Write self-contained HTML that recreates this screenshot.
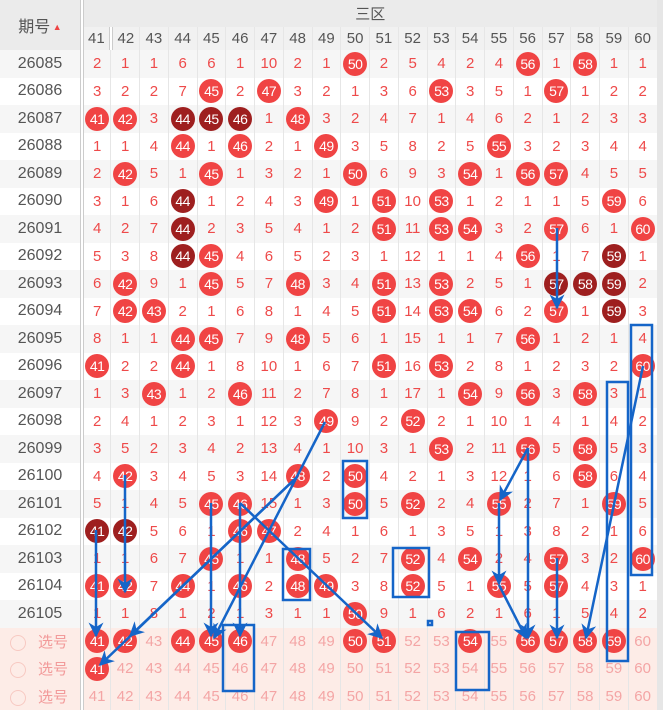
<!DOCTYPE html><html><head><meta charset="utf-8"><style>
body{margin:0;width:663px;height:699px;overflow:hidden;background:#e6e6e6;font-family:"Liberation Sans","Noto Sans CJK SC",sans-serif;position:relative}
table{position:absolute;left:0;top:0;border-collapse:collapse;table-layout:fixed;width:657px;background:#fff}
td{padding:0;text-align:center;font-size:15px;color:#ee4a4a;height:27.5px;border-right:1px solid #e6e6e6;white-space:nowrap;overflow:hidden}
td:first-child{width:76px;color:#555;font-size:16px;border-right:4px double #ccc}
tr.g td{background:#f6f6f6}
thead td{background:#ebebeb;color:#555;font-size:15px}
thead tr.h2 td{background:#f1f1f1;height:23px;font-size:15px}
i{display:inline-block;width:24px;height:24px;line-height:24px;border-radius:50%;background:#f04444;color:#fff;font-style:normal;font-size:14px;vertical-align:middle;letter-spacing:-0.5px}
i.d{background:#9e1f1f}
tr.s td{background:#fdece7;color:#f4a5a5;font-size:15px}
tr.s td:first-child{color:#f29a9a;text-align:left;padding-left:10px;font-size:15px}
.c{display:inline-block;width:14px;height:14px;border:1px solid #f7c9c2;border-radius:50%;vertical-align:middle;margin-right:12px}
svg{position:absolute;left:0;top:0}
</style></head><body>
<table>
<colgroup><col style="width:82px"><col span="20" style="width:28.75px"></colgroup>
<thead>
<tr><td rowspan="2" style="height:50px">期号<span style="font-size:9px;color:#e44;vertical-align:2px"> ▲</span></td><td colspan="20" style="height:27px">三区</td></tr>
<tr class="h2"><td>41</td><td>42</td><td>43</td><td>44</td><td>45</td><td>46</td><td>47</td><td>48</td><td>49</td><td>50</td><td>51</td><td>52</td><td>53</td><td>54</td><td>55</td><td>56</td><td>57</td><td>58</td><td>59</td><td>60</td></tr>
</thead>
<tbody>
<tr class="g"><td>26085</td><td>2</td><td>1</td><td>1</td><td>6</td><td>6</td><td>1</td><td>10</td><td>2</td><td>1</td><td><i>50</i></td><td>2</td><td>5</td><td>4</td><td>2</td><td>4</td><td><i>56</i></td><td>1</td><td><i>58</i></td><td>1</td><td>1</td></tr>
<tr><td>26086</td><td>3</td><td>2</td><td>2</td><td>7</td><td><i>45</i></td><td>2</td><td><i>47</i></td><td>3</td><td>2</td><td>1</td><td>3</td><td>6</td><td><i>53</i></td><td>3</td><td>5</td><td>1</td><td><i>57</i></td><td>1</td><td>2</td><td>2</td></tr>
<tr class="g"><td>26087</td><td><i>41</i></td><td><i>42</i></td><td>3</td><td><i class="d">44</i></td><td><i class="d">45</i></td><td><i class="d">46</i></td><td>1</td><td><i>48</i></td><td>3</td><td>2</td><td>4</td><td>7</td><td>1</td><td>4</td><td>6</td><td>2</td><td>1</td><td>2</td><td>3</td><td>3</td></tr>
<tr><td>26088</td><td>1</td><td>1</td><td>4</td><td><i>44</i></td><td>1</td><td><i>46</i></td><td>2</td><td>1</td><td><i>49</i></td><td>3</td><td>5</td><td>8</td><td>2</td><td>5</td><td><i>55</i></td><td>3</td><td>2</td><td>3</td><td>4</td><td>4</td></tr>
<tr class="g"><td>26089</td><td>2</td><td><i>42</i></td><td>5</td><td>1</td><td><i>45</i></td><td>1</td><td>3</td><td>2</td><td>1</td><td><i>50</i></td><td>6</td><td>9</td><td>3</td><td><i>54</i></td><td>1</td><td><i>56</i></td><td><i>57</i></td><td>4</td><td>5</td><td>5</td></tr>
<tr><td>26090</td><td>3</td><td>1</td><td>6</td><td><i class="d">44</i></td><td>1</td><td>2</td><td>4</td><td>3</td><td><i>49</i></td><td>1</td><td><i>51</i></td><td>10</td><td><i>53</i></td><td>1</td><td>2</td><td>1</td><td>1</td><td>5</td><td><i>59</i></td><td>6</td></tr>
<tr class="g"><td>26091</td><td>4</td><td>2</td><td>7</td><td><i class="d">44</i></td><td>2</td><td>3</td><td>5</td><td>4</td><td>1</td><td>2</td><td><i>51</i></td><td>11</td><td><i>53</i></td><td><i>54</i></td><td>3</td><td>2</td><td><i>57</i></td><td>6</td><td>1</td><td><i>60</i></td></tr>
<tr><td>26092</td><td>5</td><td>3</td><td>8</td><td><i class="d">44</i></td><td><i>45</i></td><td>4</td><td>6</td><td>5</td><td>2</td><td>3</td><td>1</td><td>12</td><td>1</td><td>1</td><td>4</td><td><i>56</i></td><td>1</td><td>7</td><td><i class="d">59</i></td><td>1</td></tr>
<tr class="g"><td>26093</td><td>6</td><td><i>42</i></td><td>9</td><td>1</td><td><i>45</i></td><td>5</td><td>7</td><td><i>48</i></td><td>3</td><td>4</td><td><i>51</i></td><td>13</td><td><i>53</i></td><td>2</td><td>5</td><td>1</td><td><i class="d">57</i></td><td><i class="d">58</i></td><td><i class="d">59</i></td><td>2</td></tr>
<tr><td>26094</td><td>7</td><td><i>42</i></td><td><i>43</i></td><td>2</td><td>1</td><td>6</td><td>8</td><td>1</td><td>4</td><td>5</td><td><i>51</i></td><td>14</td><td><i>53</i></td><td><i>54</i></td><td>6</td><td>2</td><td><i>57</i></td><td>1</td><td><i class="d">59</i></td><td>3</td></tr>
<tr class="g"><td>26095</td><td>8</td><td>1</td><td>1</td><td><i>44</i></td><td><i>45</i></td><td>7</td><td>9</td><td><i>48</i></td><td>5</td><td>6</td><td>1</td><td>15</td><td>1</td><td>1</td><td>7</td><td><i>56</i></td><td>1</td><td>2</td><td>1</td><td>4</td></tr>
<tr><td>26096</td><td><i>41</i></td><td>2</td><td>2</td><td><i>44</i></td><td>1</td><td>8</td><td>10</td><td>1</td><td>6</td><td>7</td><td><i>51</i></td><td>16</td><td><i>53</i></td><td>2</td><td>8</td><td>1</td><td>2</td><td>3</td><td>2</td><td><i>60</i></td></tr>
<tr class="g"><td>26097</td><td>1</td><td>3</td><td><i>43</i></td><td>1</td><td>2</td><td><i>46</i></td><td>11</td><td>2</td><td>7</td><td>8</td><td>1</td><td>17</td><td>1</td><td><i>54</i></td><td>9</td><td><i>56</i></td><td>3</td><td><i>58</i></td><td>3</td><td>1</td></tr>
<tr><td>26098</td><td>2</td><td>4</td><td>1</td><td>2</td><td>3</td><td>1</td><td>12</td><td>3</td><td><i>49</i></td><td>9</td><td>2</td><td><i>52</i></td><td>2</td><td>1</td><td>10</td><td>1</td><td>4</td><td>1</td><td>4</td><td>2</td></tr>
<tr class="g"><td>26099</td><td>3</td><td>5</td><td>2</td><td>3</td><td>4</td><td>2</td><td>13</td><td>4</td><td>1</td><td>10</td><td>3</td><td>1</td><td><i>53</i></td><td>2</td><td>11</td><td><i>56</i></td><td>5</td><td><i>58</i></td><td>5</td><td>3</td></tr>
<tr><td>26100</td><td>4</td><td><i>42</i></td><td>3</td><td>4</td><td>5</td><td>3</td><td>14</td><td><i>48</i></td><td>2</td><td><i>50</i></td><td>4</td><td>2</td><td>1</td><td>3</td><td>12</td><td>1</td><td>6</td><td><i>58</i></td><td>6</td><td>4</td></tr>
<tr class="g"><td>26101</td><td>5</td><td>1</td><td>4</td><td>5</td><td><i>45</i></td><td><i>46</i></td><td>15</td><td>1</td><td>3</td><td><i>50</i></td><td>5</td><td><i>52</i></td><td>2</td><td>4</td><td><i>55</i></td><td>2</td><td>7</td><td>1</td><td><i>59</i></td><td>5</td></tr>
<tr><td>26102</td><td><i class="d">41</i></td><td><i class="d">42</i></td><td>5</td><td>6</td><td>1</td><td><i>46</i></td><td><i>47</i></td><td>2</td><td>4</td><td>1</td><td>6</td><td>1</td><td>3</td><td>5</td><td>1</td><td>3</td><td>8</td><td>2</td><td>1</td><td>6</td></tr>
<tr class="g"><td>26103</td><td>1</td><td>1</td><td>6</td><td>7</td><td><i>45</i></td><td>1</td><td>1</td><td><i>48</i></td><td>5</td><td>2</td><td>7</td><td><i>52</i></td><td>4</td><td><i>54</i></td><td>2</td><td>4</td><td><i>57</i></td><td>3</td><td>2</td><td><i>60</i></td></tr>
<tr><td>26104</td><td><i>41</i></td><td><i>42</i></td><td>7</td><td><i>44</i></td><td>1</td><td><i>46</i></td><td>2</td><td><i>48</i></td><td><i>49</i></td><td>3</td><td>8</td><td><i>52</i></td><td>5</td><td>1</td><td><i>55</i></td><td>5</td><td><i>57</i></td><td>4</td><td>3</td><td>1</td></tr>
<tr class="g"><td>26105</td><td>1</td><td>1</td><td>8</td><td>1</td><td>2</td><td>1</td><td>3</td><td>1</td><td>1</td><td><i>50</i></td><td>9</td><td>1</td><td>6</td><td>2</td><td>1</td><td>6</td><td>1</td><td>5</td><td>4</td><td>2</td></tr>
<tr class="s"><td><span class="c"></span>选号</td><td><i>41</i></td><td><i>42</i></td><td>43</td><td><i>44</i></td><td><i>45</i></td><td><i>46</i></td><td>47</td><td>48</td><td>49</td><td><i>50</i></td><td><i>51</i></td><td>52</td><td>53</td><td><i>54</i></td><td>55</td><td><i>56</i></td><td><i>57</i></td><td><i>58</i></td><td><i>59</i></td><td>60</td></tr>
<tr class="s"><td><span class="c"></span>选号</td><td><i>41</i></td><td>42</td><td>43</td><td>44</td><td>45</td><td>46</td><td>47</td><td>48</td><td>49</td><td>50</td><td>51</td><td>52</td><td>53</td><td>54</td><td>55</td><td>56</td><td>57</td><td>58</td><td>59</td><td>60</td></tr>
<tr class="s"><td><span class="c"></span>选号</td><td>41</td><td>42</td><td>43</td><td>44</td><td>45</td><td>46</td><td>47</td><td>48</td><td>49</td><td>50</td><td>51</td><td>52</td><td>53</td><td>54</td><td>55</td><td>56</td><td>57</td><td>58</td><td>59</td><td>60</td></tr>
</tbody></table>
<svg width="663" height="699" viewBox="0 0 663 699">
<defs><marker id="a" viewBox="0 0 10 10" refX="9" refY="5" markerWidth="6" markerHeight="6" orient="auto-start-reverse"><path d="M0,0 L10,5 L0,10 L3,5 z" fill="#1565c8"/></marker></defs>
<g stroke="#1565c8" stroke-width="2.5" fill="none" marker-end="url(#a)">
<line x1="557" y1="228" x2="557" y2="308"/>
<line x1="96" y1="530" x2="96" y2="636"/>
<line x1="125" y1="475" x2="125" y2="592"/>
<line x1="211" y1="503" x2="211" y2="636"/>
<line x1="240" y1="503" x2="240" y2="636"/>
<line x1="325" y1="422" x2="214" y2="638"/>
<line x1="297" y1="477" x2="130" y2="636"/>
<line x1="297" y1="477" x2="100" y2="665"/>
<line x1="240" y1="503" x2="382" y2="638"/>
<line x1="528" y1="448" x2="500" y2="500"/>
<line x1="499" y1="503" x2="499" y2="584"/>
<line x1="528" y1="448" x2="528" y2="638"/>
<line x1="499" y1="585" x2="526" y2="638"/>
<line x1="557" y1="558" x2="557" y2="638"/>
<line x1="643" y1="366" x2="586" y2="638"/>
</g>
<g stroke="#1565c8" stroke-width="2.5" fill="none">
<rect x="343" y="461" width="24" height="57"/>
<rect x="393" y="548" width="36" height="49"/>
<rect x="283" y="549" width="27" height="51"/>
<rect x="223" y="625" width="31" height="66"/>
<rect x="456" y="632" width="33" height="58"/>
<rect x="607" y="382" width="21" height="279"/>
<rect x="631" y="325" width="21" height="250"/>
<rect x="428" y="621" width="4" height="4"/>
</g>
</svg>
</body></html>
